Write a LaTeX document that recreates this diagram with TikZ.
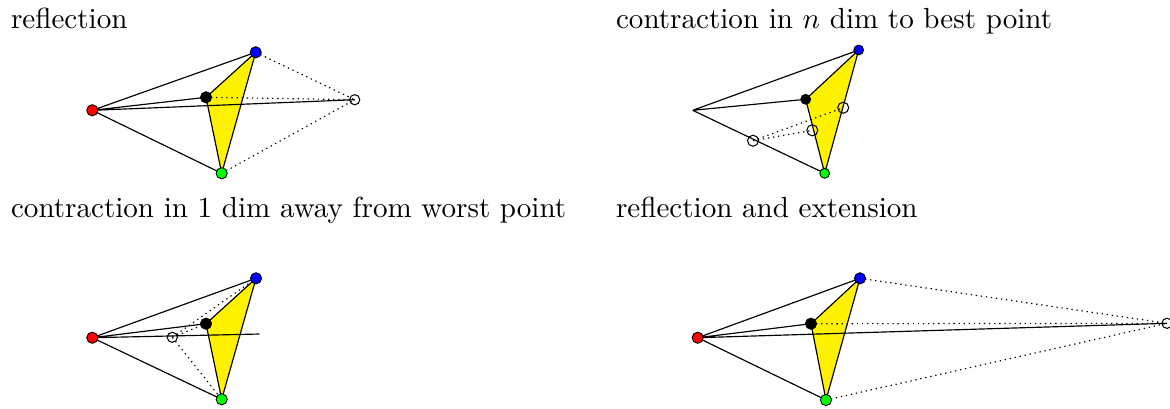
\documentclass[tikz,border=0pt]{standalone}
\begin{document}
\begin{tikzpicture}[x=0.344pt,y=-0.344pt,
  edge/.style={line width=0.4pt},
  dots/.style={line width=0.4pt,dash pattern=on 0.45pt off 1.3pt},
  tri/.style={fill=yellow,draw=black,line width=0.4pt,line join=round},
  vdot/.style={circle,draw=black,line width=0.3pt,inner sep=0pt,minimum size=3.85pt},
  sdot/.style={circle,draw=black,line width=0.3pt,inner sep=0pt,minimum size=3.4pt},
  odot/.style={circle,draw=black,fill=none,line width=0.35pt,inner sep=0pt,minimum size=3.5pt},
  bodot/.style={odot,minimum size=3.8pt},
  title/.style={anchor=base west,inner sep=0pt,font=\normalsize}]
\useasboundingbox (0,0) rectangle (1170,408);

% titles
\node[title] (t1) at (10.5,28.3) {reflection};
\node[title] (t2) at (615.5,28.3) {contraction in $n$ dim to best point};
\node[title] (t3) at (10.5,217.7) {contraction in 1 dim away from worst point};
\node[title] (t4) at (615.5,217.7) {reflection and extension};

% ---------- panel 1: reflection
\coordinate (R1) at (92.3,110.3);
\coordinate (B1) at (255.7,52.3);
\coordinate (K1) at (206,97.3);
\coordinate (G1) at (221.7,173.3);
\coordinate (O1) at (354.7,99.7);
\draw[tri] (B1) -- (K1) -- (G1) -- cycle;
\draw[edge] (R1) -- (B1) (R1) -- (G1) (R1) -- (K1) (R1) -- (O1);
\draw[dots] (B1) -- (O1) (K1) -- (O1) (G1) -- (O1);
\node[vdot,fill=red] (r1) at (R1) {};
\node[vdot,fill=blue] (b1) at (B1) {};
\node[vdot,fill=black] (k1) at (K1) {};
\node[vdot,fill=green] (g1) at (G1) {};
\node[odot] (o1) at (O1) {};

% ---------- panel 2: contraction to best point
\coordinate (R2) at (692.7,110.3);
\coordinate (B2) at (858.7,50);
\coordinate (K2) at (805.7,99.3);
\coordinate (G2) at (824.7,173.3);
\coordinate (Pa) at (753,140.7);
\coordinate (Pb) at (812.3,130.3);
\coordinate (Pc) at (843.2,107.7);
\draw[tri] (B2) -- (K2) -- (G2) -- cycle;
\draw[edge] (R2) -- (B2) (R2) -- (K2) (R2) -- (G2);
\draw[dots] (Pa) -- (Pb) (Pa) -- (Pc);
\node[sdot,fill=blue] (b2) at (B2) {};
\node[sdot,fill=black] (k2) at (K2) {};
\node[sdot,fill=green] (g2) at (G2) {};
\node[bodot] (pa) at (Pa) {};
\node[bodot] (pb) at (Pb) {};
\node[bodot] (pc) at (Pc) {};

% ---------- panel 3: contraction in 1 dim
\coordinate (R3) at (92.3,337.7);
\coordinate (B3) at (256,278.3);
\coordinate (K3) at (206,323.7);
\coordinate (G3) at (221.7,399.3);
\coordinate (O3) at (172.3,337.3);
\coordinate (E3) at (259.3,334);
\draw[tri] (B3) -- (K3) -- (G3) -- cycle;
\draw[edge] (R3) -- (B3) (R3) -- (G3) (R3) -- (K3) (R3) -- (E3);
\draw[dots] (O3) -- (B3) (O3) -- (K3) (O3) -- (G3);
\node[vdot,fill=red] (r3) at (R3) {};
\node[vdot,fill=blue] (b3) at (B3) {};
\node[vdot,fill=black] (k3) at (K3) {};
\node[vdot,fill=green] (g3) at (G3) {};
\node[odot] (o3) at (O3) {};

% ---------- panel 4: reflection and extension
\coordinate (R4) at (697.7,337.7);
\coordinate (B4) at (860,278.3);
\coordinate (K4) at (811,323.7);
\coordinate (G4) at (826,400);
\coordinate (O4) at (1167,323.3);
\draw[tri] (B4) -- (K4) -- (G4) -- cycle;
\draw[edge] (R4) -- (B4) (R4) -- (G4) (R4) -- (K4) (R4) -- (O4);
\draw[dots] (B4) -- (O4) (K4) -- (O4) (G4) -- (O4);
\node[vdot,fill=red] (r4) at (R4) {};
\node[vdot,fill=blue] (b4) at (B4) {};
\node[vdot,fill=black] (k4) at (K4) {};
\node[vdot,fill=green] (g4) at (G4) {};
\node[odot] (o4) at (O4) {};
\end{tikzpicture}
\end{document}
